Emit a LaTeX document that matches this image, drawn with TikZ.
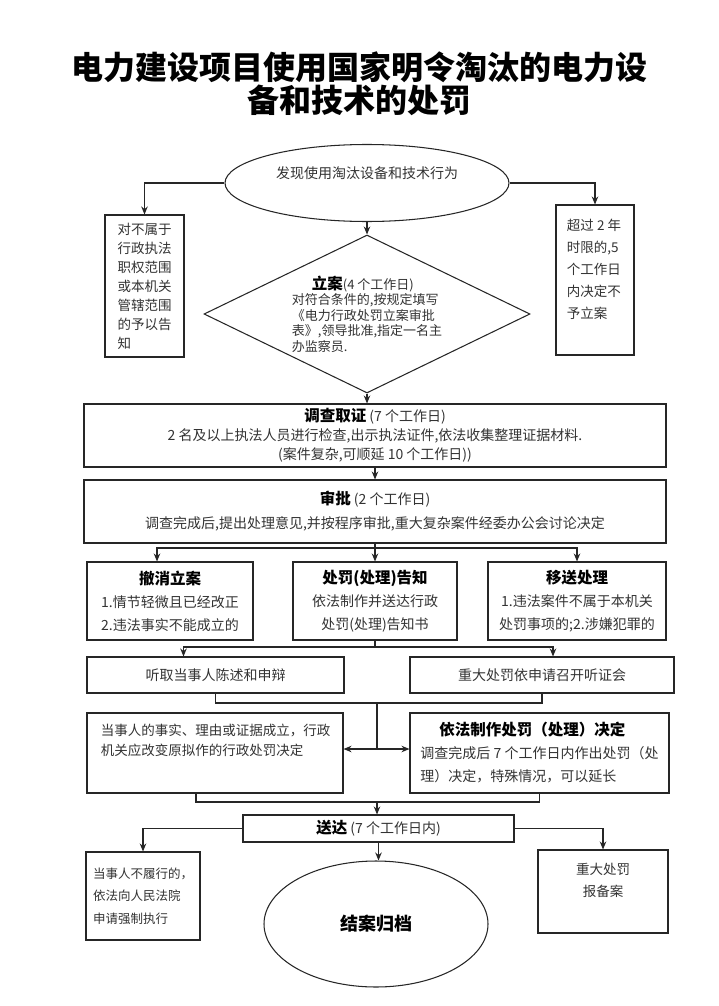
\documentclass[tikz,border=0pt]{standalone}
\usepackage{fontspec}
\setmainfont{Noto Sans CJK SC}
\usetikzlibrary{arrows.meta,shapes.geometric}
\tikzset{
  wire/.style={draw=black!85,line width=1.05pt},
  arr/.style={wire,-{Stealth[length=8pt,width=6.5pt]}},
  box/.style={wire,rectangle,inner sep=0pt,align=center,text=black!80,font=\fontsize{14}{23}\selectfont},
  txt/.style={inner sep=0pt,align=left,text=black!80,font=\fontsize{14}{21}\selectfont},
}
\newcommand{\hd}[1]{{\fontsize{15.5}{18}\selectfont\bfseries\color{black}#1}}
\begin{document}
\begin{tikzpicture}[x=1pt,y=-1pt]
\fill[white] (0,0) rectangle (718,1006);
\useasboundingbox (0,0) rectangle (718,1006);

% title
\node[align=center,font=\fontsize{32}{33}\selectfont\bfseries] (title) at (359,84) {电力建设项目使用国家明令淘汰的电力设\\备和技术的处罚};

% start and the two rejections
\node[wire,ellipse,minimum width=284pt,minimum height=77pt,inner sep=0pt] (start) at (367,183) {};
\node[txt] (start-t) at (367,173) {发现使用淘汰设备和技术行为};
\node[box,minimum width=79pt,minimum height=142pt,align=left,font=\fontsize{13.5}{19}\selectfont] (nojur) at (144.5,286) {对不属于\\行政执法\\职权范围\\或本机关\\管辖范围\\的予以告\\知};
\node[box,minimum width=78pt,minimum height=150pt] (late) at (595,280) {};
\node[txt,font=\fontsize{13.5}{22}\selectfont] (late-t) at (594,269) {超过 2 年\\时限的,5\\个工作日\\内决定不\\予立案};
\draw[arr] (start.west) -| (nojur.north);
\draw[arr] (start.east) -| (late.north);

% filing
\node[wire,diamond,aspect=2,minimum width=326pt,minimum height=158pt,inner sep=0pt,align=left,text=black!80,font=\fontsize{13}{15.5}\selectfont] (case) at (367,314) {\hspace*{20pt}\hd{立案}(4 个工作日)\\对符合条件的,按规定填写\\《电力行政处罚立案审批\\表》,领导批准,指定一名主\\办监察员.};
\draw[arr] (start.south) -- (case.north);

% investigation and approval
\node[box,minimum width=582pt,minimum height=63pt,font=\fontsize{14}{19}\selectfont] (invest) at (375,435.5) {\hd{调查取证}\ (7 个工作日)\\2 名及以上执法人员进行检查,出示执法证件,依法收集整理证据材料.\\(案件复杂,可顺延 10 个工作日))};
\draw[arr] (case.south) -- (case.south |- invest.north);
\node[box,minimum width=582pt,minimum height=63pt,font=\fontsize{14}{24}\selectfont] (approve) at (375,511.5) {\hd{审批}\ (2 个工作日)\\调查完成后,提出处理意见,并按程序审批,重大复杂案件经委办公会讨论决定};
\draw[arr] (invest.south) -- (approve.north);

% three outcomes
\node[box,minimum width=166pt,minimum height=78pt] (revoke) at (170,601) {\hd{撤消立案}\\1.情节轻微且已经改正\\2.违法事实不能成立的};
\node[box,minimum width=164pt,minimum height=78pt] (notify) at (375,601) {\hd{处罚(处理)告知}\\依法制作并送达行政\\处罚(处理)告知书};
\node[box,minimum width=178pt,minimum height=78pt] (transfer) at (577,601) {\hd{移送处理}\\1.违法案件不属于本机关\\处罚事项的;2.涉嫌犯罪的};
\coordinate (fork1) at (375,548);
\draw[wire] (approve.south) -- (fork1);
\draw[arr] (fork1) -| ([xshift=-13pt]revoke.north);
\draw[arr] (fork1) -- (notify.north);
\draw[arr] (fork1) -| (transfer.north);

% hearing
\node[box,minimum width=257pt,minimum height=36pt] (hear) at (215.5,675) {听取当事人陈述和申辩};
\node[box,minimum width=264pt,minimum height=36pt] (hearing) at (542,675) {重大处罚依申请召开听证会};
\coordinate (fork2) at (375,647);
\draw[wire] (notify.south) -- (fork2);
\draw[arr] (fork2) -| ([xshift=-32pt]hear.north);
\draw[arr] (fork2) -| ([xshift=11pt]hearing.north);

% decision
\node[box,minimum width=256pt,minimum height=80pt] (fact) at (215,753) {};
\node[txt,font=\fontsize{13.5}{20}\selectfont] (fact-t) at (215.5,740) {当事人的事实、理由或证据成立，行政\\机关应改变原拟作的行政处罚决定};
\node[box,minimum width=259pt,minimum height=80pt,align=left] (decide) at (539.5,753) {\hspace*{19pt}\hd{依法制作处罚（处理）决定}\\调查完成后 7 个工作日内作出处罚（处\\理）决定，特殊情况，可以延长};
\coordinate (join1) at (377,703);
\coordinate (split) at (377,749);
\draw[wire] (hear.south) |- (join1) -| (hearing.south);
\draw[wire] (join1) -- (split);
\draw[arr] (split) -- (split -| fact.east);
\draw[arr] (split) -- (split -| decide.west);

% delivery and archive
\coordinate (join2) at (377,802);
\draw[wire] ([xshift=-19pt]fact.south) |- (join2) -| (decide.south);
\node[box,minimum width=271pt,minimum height=27pt] (deliver) at (378.5,828.5) {\hd{送达}\ (7 个工作日内)};
\draw[arr] (join2) -- (join2 |- deliver.north);
\node[box,minimum width=114pt,minimum height=88pt,align=left,font=\fontsize{12.5}{22.5}\selectfont] (enforce) at (143,896) {当事人不履行的，\\依法向人民法院\\申请强制执行};
\node[box,minimum width=130pt,minimum height=83pt] (report) at (603,891.5) {};
\node[txt,align=center,font=\fontsize{13.5}{22}\selectfont] (report-t) at (603,880) {重大处罚\\报备案};
\node[wire,ellipse,minimum width=224pt,minimum height=126pt,inner sep=0pt,font=\fontsize{18}{20}\selectfont\bfseries] (archive) at (376,924) {结案归档};
\draw[arr] (deliver.west) -| (enforce.north);
\draw[arr] (deliver.east) -| (report.north);
\draw[arr] (deliver.south) -- (deliver.south |- archive.north);
\end{tikzpicture}
\end{document}
